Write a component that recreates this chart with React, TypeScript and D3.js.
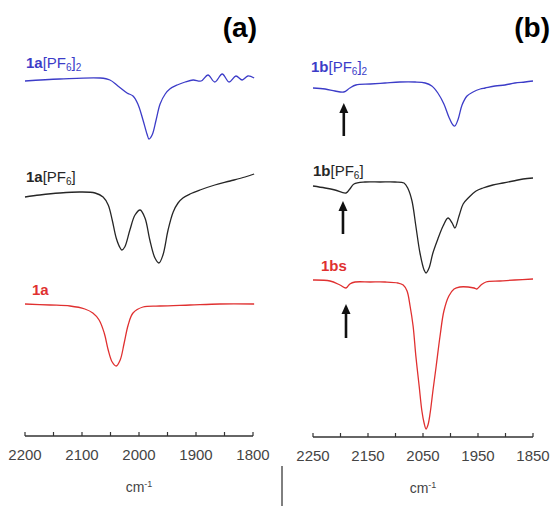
import React from "react";
import * as d3 from "d3";

// ---------- data (wavenumber cm-1, offset transmittance a.u.) ----------
const aTicks = [2200, 2150, 2100, 2050, 2000, 1950, 1900, 1850, 1800];
const aTickLabels = [2200, 2100, 2000, 1900, 1800];
const bTicks = [2250, 2200, 2150, 2100, 2050, 2000, 1950, 1900, 1850];
const bTickLabels = [2250, 2150, 2050, 1950, 1850];

const a1aPF6_2: [number, number][] = [
  [2200, 355], [2139, 357], [2068, 358], [2051, 356], [2037, 350], [2021, 343],
  [2010.5, 340], [2002, 332], [1993, 316], [1986, 302], [1982.5, 297], [1977, 301],
  [1970, 316], [1963, 332], [1954, 342], [1946, 347], [1933, 351], [1919, 354],
  [1905, 356], [1891, 355], [1879, 361], [1867, 354], [1854, 362], [1842, 354],
  [1830, 360], [1819, 356], [1809, 360], [1798, 358],
];
const a1aPF6: [number, number][] = [
  [2200, 239], [2174, 241], [2139, 243], [2103.5, 244], [2077, 243], [2063, 239],
  [2054, 231], [2047, 216], [2040, 198], [2033, 188], [2030, 186], [2025, 189],
  [2016, 206], [2007, 221], [1998, 226], [1989.5, 218], [1981, 196], [1972, 178],
  [1965, 173], [1958, 181], [1949, 206], [1940, 224], [1931.5, 233], [1923, 238],
  [1910.5, 242], [1893, 246], [1867, 251], [1840, 255], [1814, 259], [1798, 262],
];
const a1a: [number, number][] = [
  [2200, 132], [2156, 131], [2121, 130], [2095, 127], [2081, 123], [2070, 116],
  [2061, 103], [2054, 86], [2047, 74], [2040, 70], [2033, 76], [2026, 93],
  [2019, 111], [2010.5, 123], [1993, 129], [1963, 130], [1910.5, 131], [1858, 132],
  [1798, 132],
];

const b1bPF6_2: [number, number][] = [
  [2250, 349], [2228, 348], [2210, 346], [2194, 345], [2183, 349], [2172, 352],
  [2146, 353], [2119, 354], [2092, 355], [2064.5, 355], [2046, 354], [2034, 351],
  [2023, 344], [2012, 333], [2003, 320], [1995.5, 312], [1992, 311], [1986, 318],
  [1979, 332], [1970, 341], [1959, 345], [1946, 348], [1937, 349], [1919, 351],
  [1901, 352], [1883, 354], [1864.5, 355], [1850, 356],
];
const b1bPF6: [number, number][] = [
  [2250, 251], [2228, 249], [2210, 247], [2190, 244], [2183, 248], [2175.5, 253],
  [2155.5, 255], [2128, 255], [2101, 255], [2084.5, 254], [2077, 248], [2070, 236],
  [2063, 211], [2055.5, 184], [2048, 167], [2044.5, 164], [2039, 169], [2032, 184],
  [2023, 198], [2013.5, 211], [2004.5, 219], [1997, 214], [1992, 209], [1984.5, 221],
  [1977, 233], [1966, 240], [1953.5, 246], [1941, 249], [1923, 252], [1904.5, 254],
  [1886, 256], [1868, 258], [1850, 259],
];
const b1bs: [number, number][] = [
  [2250, 157], [2219, 156], [2201, 152], [2190, 149], [2183, 153], [2173.5, 155],
  [2146, 155], [2119, 155], [2095.5, 154], [2086, 152], [2079, 146], [2073.5, 131],
  [2068, 111], [2063, 81], [2057, 51], [2052, 26], [2048, 14], [2044.5, 8],
  [2041, 12], [2037, 24], [2032, 46], [2026, 71], [2019, 101], [2012, 126],
  [2003, 141], [1993.5, 148], [1983, 150], [1968, 150], [1957, 149], [1952, 148],
  [1944.5, 152], [1935.5, 155], [1910, 156], [1883, 157], [1850, 158],
];
const bArrows = [
  { wn: 2194, from: 301, to: 334 },
  { wn: 2195.5, from: 203, to: 236 },
  { wn: 2190, from: 99, to: 133 },
];

const BLUE = "#3c3cc8";
const BLACK = "#262626";
const RED = "#e03030";
const FONT = "'Liberation Sans', Arial, sans-serif";

const y = d3.scaleLinear().domain([0, 400]).range([436, 36]);
const xA = d3.scaleLinear().domain([2200, 1800]).range([25, 253]);
const xB = d3.scaleLinear().domain([2250, 1850]).range([313, 533]);

function Curve({ data, x, color }: { data: [number, number][]; x: any; color: string }) {
  const line = d3
    .line<[number, number]>()
    .x((d) => x(d[0]))
    .y((d) => y(d[1]))
    .curve(d3.curveCatmullRom.alpha(0.5));
  return <path d={line(data) || ""} fill="none" stroke={color} strokeWidth={1.3} />;
}

function Axis({ x, ticks, labels }: { x: any; ticks: number[]; labels: number[] }) {
  const y0 = y(0);
  const [r0, r1] = x.range();
  return (
    <g>
      <line x1={r0} x2={r1} y1={y0} y2={y0} stroke="#333" strokeWidth={1.5} />
      {ticks.map((t) => (
        <line key={t} x1={x(t)} x2={x(t)} y1={y0} y2={y0 - 4} stroke="#333" strokeWidth={1.2} />
      ))}
      {labels.map((t) => (
        <text key={t} x={x(t)} y={y0 + 24} textAnchor="middle" fontSize={15} fill="#444" fontFamily={FONT}>
          {t}
        </text>
      ))}
      <text x={(r0 + r1) / 2} y={y0 + 56} textAnchor="middle" fontSize={14} fill="#444" fontFamily={FONT}>
        cm
        <tspan fontSize={9} dy={-5}>-1</tspan>
      </text>
    </g>
  );
}

function Label({ x, yy, bold, color, sub1, sub2, plain }: any) {
  return (
    <text x={x} y={yy} fontSize={15} fill={color} fontFamily={FONT}>
      <tspan fontWeight="bold">{bold}</tspan>
      {plain ? (
        <>
          <tspan>[PF</tspan>
          <tspan fontSize={10} dy={3}>{sub1}</tspan>
          <tspan dy={-3}>]</tspan>
          {sub2 ? <tspan fontSize={10} dy={3}>{sub2}</tspan> : null}
        </>
      ) : null}
    </text>
  );
}

function Arrow({ wn, from, to }: { wn: number; from: number; to: number }) {
  const px = xB(wn);
  const yTail = y(from);
  const yTip = y(to);
  return (
    <g>
      <line x1={px} x2={px} y1={yTail} y2={yTip + 8} stroke="#111" strokeWidth={2.6} />
      <path d={`M${px},${yTip} L${px - 4.5},${yTip + 10} L${px + 4.5},${yTip + 10} Z`} fill="#111" />
    </g>
  );
}

export default function App() {
  return (
    <svg width={552} height={506} style={{ position: "absolute", left: 0, top: 0, background: "#fff" }}>
      <rect width={552} height={506} fill="#fff" />
      {/* panel (a) */}
      <text x={257} y={37} textAnchor="end" fontSize={28} fontWeight="bold" fill="#000" fontFamily={FONT}>(a)</text>
      <Label x={26} yy={68} bold="1a" color={BLUE} plain sub1="6" sub2="2" />
      <Label x={26} yy={182} bold="1a" color={BLACK} plain sub1="6" />
      <Label x={32} yy={295} bold="1a" color={RED} />
      <Curve data={a1aPF6_2} x={xA} color={BLUE} />
      <Curve data={a1aPF6} x={xA} color={BLACK} />
      <Curve data={a1a} x={xA} color={RED} />
      <Axis x={xA} ticks={aTicks} labels={aTickLabels} />

      {/* panel (b) */}
      <g transform="translate(0,1)">
        <text x={550} y={36} textAnchor="end" fontSize={28} fontWeight="bold" fill="#000" fontFamily={FONT}>(b)</text>
        <Label x={311} yy={71} bold="1b" color={BLUE} plain sub1="6" sub2="2" />
        <Label x={313} yy={175} bold="1b" color={BLACK} plain sub1="6" />
        <Label x={321} yy={270} bold="1bs" color={RED} />
        <Curve data={b1bPF6_2} x={xB} color={BLUE} />
        <Curve data={b1bPF6} x={xB} color={BLACK} />
        <Curve data={b1bs} x={xB} color={RED} />
        {bArrows.map((a, i) => (
          <Arrow key={i} {...a} />
        ))}
        <Axis x={xB} ticks={bTicks} labels={bTickLabels} />
      </g>
      <line x1={282} x2={282} y1={466} y2={506} stroke="#000" strokeWidth={1} />
    </svg>
  );
}
